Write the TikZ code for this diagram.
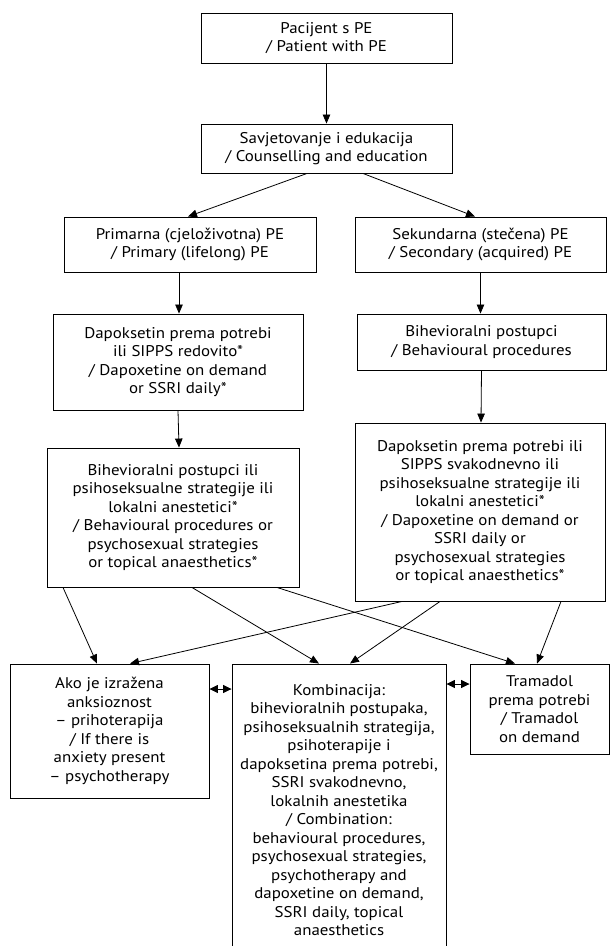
\documentclass[tikz,border=0pt]{standalone}
\usepackage{fontspec}
\setmainfont{PT Sans}[FakeStretch=1.09]
\usetikzlibrary{arrows.meta}
\begin{document}
\begin{tikzpicture}[x=1pt,y=-1pt,
  box/.style={draw,line width=0.9pt,align=center,inner sep=0pt,
    font=\fontsize{15.5}{18.5}\selectfont},
  arr/.style={line width=0.8pt,-{Triangle[length=9pt,width=7.5pt]}},
  darr/.style={line width=0.8pt,{Triangle[length=8.5pt,width=8pt]}-{Triangle[length=8.5pt,width=8pt]}}]
\clip (0,0) rectangle (612,946);
\fill[white] (0,0) rectangle (612,946);
\node[box,minimum width=251pt,minimum height=50pt] (pat) at (326.5,38) {Pacijent s PE\\/ Patient with PE};
\node[box,minimum width=251pt,minimum height=49pt] (sav) at (326.5,148.5) {Savjetovanje i edukacija\\/ Counselling and education};
\node[box,minimum width=252pt,minimum height=55pt] (prim) at (190,244.5) {Primarna (cjeloživotna) PE\\/ Primary (lifelong) PE};
\node[box,minimum width=251pt,minimum height=55pt] (sec) at (480.5,244.5) {Sekundarna (stečena) PE\\/ Secondary (acquired) PE};
\node[box,minimum width=250pt,minimum height=96pt] (dapL) at (178,362) {Dapoksetin prema potrebi\\ili SIPPS redovito*\\/ Dapoxetine on demand\\or SSRI daily*};
\node[box,minimum width=249pt,minimum height=56pt] (behR) at (481.5,342) {Bihevioralni postupci\\/ Behavioural procedures};
\node[box,minimum width=252pt,minimum height=139pt] (behL) at (173,517.5) {Bihevioralni postupci ili\\psihoseksualne strategije ili\\lokalni anestetici*\\/ Behavioural procedures or\\psychosexual strategies\\or topical anaesthetics*};
\node[box,minimum width=250pt,minimum height=178pt] (dapR) at (480,512) {Dapoksetin prema potrebi ili\\SIPPS svakodnevno ili\\psihoseksualne strategije ili\\lokalni anestetici*\\/ Dapoxetine on demand or\\SSRI daily or\\psychosexual strategies\\or topical anaesthetics*};
\node[box,minimum width=199pt,minimum height=134pt] (ako) at (109.5,731) {Ako je izražena\\anksioznost\\– prihoterapija\\/ If there is\\anxiety present\\– psychotherapy};
\node[box,minimum width=214pt,minimum height=292pt] (komb) at (339,810) {Kombinacija:\\bihevioralnih postupaka,\\psihoseksualnih strategija,\\psihoterapije i\\dapoksetina prema potrebi,\\SSRI svakodnevno,\\lokalnih anestetika\\/ Combination:\\behavioural procedures,\\psychosexual strategies,\\psychotherapy and\\dapoxetine on demand,\\SSRI daily, topical\\anaesthetics};
\node[box,minimum width=139pt,minimum height=90pt] (tram) at (539.5,709) {Tramadol\\prema potrebi\\/ Tramadol\\on demand};
% connectors
\draw[arr] (pat.south) -- (sav.north);
\draw[arr] ([xshift=-19.5pt]sav.south) -- ([xshift=-2pt]prim.north);
\draw[arr] ([xshift=36.5pt]sav.south) -- ([xshift=-5.5pt]sec.north);
\draw[arr] ([xshift=-11pt]prim.south) -- ([xshift=1pt]dapL.north);
\draw[arr] (dapL.south) -- ([xshift=6pt]behL.north);
\draw[arr] (sec.south) -- ([xshift=-1pt]behR.north);
\draw[arr] (behR.south) -- ([xshift=1pt]dapR.north);
\draw[arr] ([xshift=-110pt]behL.south) -- ([xshift=-12.5pt]ako.north);
\draw[arr] ([xshift=19pt]behL.south) -- ([xshift=-20pt]komb.north);
\draw[arr] ([xshift=104pt]behL.south) -- ([xshift=-24.5pt]tram.north);
\draw[arr] ([xshift=-78pt]dapR.south) -- ([xshift=20.5pt]ako.north);
\draw[arr] ([xshift=-40pt]dapR.south) -- ([xshift=11pt]komb.north);
\draw[arr] ([xshift=81pt]dapR.south) -- ([xshift=-2.5pt]tram.north);
\draw[darr] ([yshift=42pt]ako.east) -- ([yshift=42pt]ako.east -| komb.west);
\draw[darr] ([yshift=25pt]tram.west -| komb.east) -- ([yshift=25pt]tram.west);
\end{tikzpicture}
\end{document}
